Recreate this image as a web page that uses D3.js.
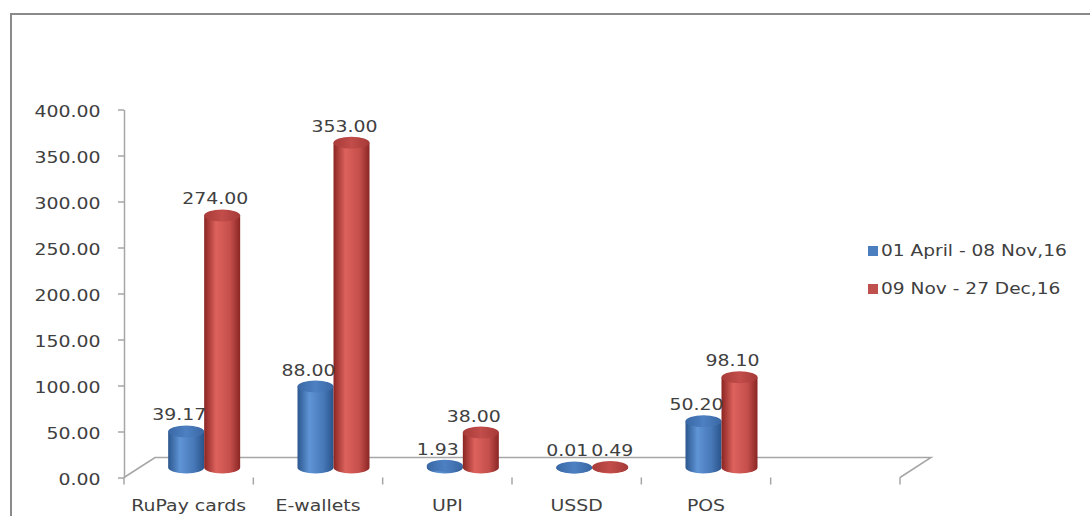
<!DOCTYPE html>
<html>
<head>
<meta charset="utf-8">
<script src="https://cdn.jsdelivr.net/npm/d3@7/dist/d3.min.js"></script>
<style>
  html, body { margin: 0; padding: 0; background: #fff; }
  svg { display: block; }
  text { font-family: "DejaVu Sans", Verdana, sans-serif; fill: #404040; }
</style>
</head>
<body>
<script>
// ---- data ----
const categories = ["RuPay cards", "E-wallets", "UPI", "USSD", "POS", ""];
const seriesNames = ["01 April - 08 Nov,16", "09 Nov - 27 Dec,16"];
const series1 = [39.17, 88.00, 1.93, 0.01, 50.20, null];
const series2 = [274.00, 353.00, 38.00, 0.49, 98.10, null];
const yTicks = [0, 50, 100, 150, 200, 250, 300, 350, 400];

// ---- layout ----
const W = 1090, H = 516;
const SX = 1.18;                 // horizontal stretch of the source text
const depthX = 31, depthY = -20; // floor depth offset
const svg = d3.select("body").append("svg").attr("width", W).attr("height", H);

const defs = svg.append("defs");
function grad(id, stops) {
  const g = defs.append("linearGradient").attr("id", id)
    .attr("x1", "0%").attr("x2", "100%").attr("y1", "0%").attr("y2", "0%");
  stops.forEach(s => g.append("stop").attr("offset", s[0]).attr("stop-color", s[1]));
}
grad("gBlue", [[0, "#2b578e"], [0.33, "#5f94d6"], [0.72, "#4778b8"], [1, "#2a548a"]]);
grad("gRed",  [[0, "#8a2522"], [0.33, "#dd625d"], [0.72, "#c54f4b"], [1, "#8a2624"]]);
grad("gBlueTop", [[0, "#3a68a6"], [0.5, "#4d80c2"], [1, "#3a67a3"]]);
grad("gRedTop",  [[0, "#a83b38"], [0.5, "#c24d4a"], [1, "#a53a37"]]);

// frame
svg.append("rect").attr("x", 11).attr("y", 14).attr("width", W + 20).attr("height", H + 20)
  .attr("fill", "none").attr("stroke", "#8a8a8a").attr("stroke-width", 2);

const x = d3.scaleBand().domain(d3.range(categories.length)).range([124, 900]).paddingInner(0).paddingOuter(0);
const y = d3.scaleLinear().domain([0, 400]).range([477.5, 109.5]);

// floor
const fx0 = x.range()[0], fx1 = x.range()[1], fy = y(0);
svg.append("path")
  .attr("d", `M${fx0},${fy} L${fx0 + depthX},${fy + depthY} L${fx1 + depthX},${fy + depthY} L${fx1},${fy}`)
  .attr("fill", "none").attr("stroke", "#a6a6a6").attr("stroke-width", 1.5);

// y axis
const yAxis = d3.axisLeft(y).tickValues(yTicks).tickFormat(d3.format(".2f"))
  .tickSize(6).tickSizeOuter(0).tickPadding(14);
const gy = svg.append("g").attr("transform", `translate(${fx0},0)`).call(yAxis);
gy.select(".domain").attr("stroke", "#a6a6a6").attr("stroke-width", 1.5);
gy.selectAll(".tick line").attr("stroke", "#a6a6a6").attr("stroke-width", 1.5);
gy.selectAll(".tick text")
  .style("font-size", "16px").style("font-family", "'DejaVu Sans', Verdana, sans-serif")
  .attr("fill", "#404040")
  .attr("dy", "0.42em")
  .attr("transform", `scale(${SX},1)`);

// x axis (front floor edge)
const xAxis = d3.axisBottom(x).tickSize(0).tickFormat(i => categories[i]).tickPadding(22);
const gx = svg.append("g").attr("transform", `translate(0,${fy})`).call(xAxis);
gx.select(".domain").remove();
gx.selectAll(".tick text")
  .style("font-size", "16px").style("font-family", "'DejaVu Sans', Verdana, sans-serif")
  .attr("fill", "#404040")
  .attr("transform", `scale(${SX},1)`)
  .attr("x", 0);
gx.selectAll(".tick").each(function (d) {
  const cx = x(d) + x.bandwidth() / 2;
  d3.select(this).attr("transform", `translate(${cx},0)`);
});
// category boundary ticks
svg.append("g").selectAll("line")
  .data(d3.range(categories.length + 1))
  .join("line")
  .attr("x1", i => fx0 + i * x.bandwidth()).attr("x2", i => fx0 + i * x.bandwidth())
  .attr("y1", fy).attr("y2", fy + 7)
  .attr("stroke", "#a6a6a6").attr("stroke-width", 1.5);

// cylinders
const rx = 18, ry = 6;
const baseY = y(0) + depthY / 2;
function cylinder(g, cx, v, body, top) {
  const topY = baseY - (y(0) - y(v));
  g.append("path")
    .attr("d", `M${cx - rx},${topY} L${cx - rx},${baseY} A${rx},${ry} 0 0 0 ${cx + rx},${baseY} L${cx + rx},${topY} Z`)
    .attr("fill", `url(#${body})`);
  g.append("ellipse").attr("cx", cx).attr("cy", topY).attr("rx", rx).attr("ry", ry)
    .attr("fill", `url(#${top})`);
  return topY;
}
const barsG = svg.append("g");
const labelsG = svg.append("g");
const seriesList = [
  { vals: series1, body: "gBlue", top: "gBlueTop", off: -rx },
  { vals: series2, body: "gRed", top: "gRedTop", off: rx }
];
const placed = {}; // per category: previous label extent, to avoid overlap
seriesList.forEach(s => {
  s.vals.forEach((v, i) => {
    if (v == null) return;
    const gc = x(i) + x.bandwidth() / 2 + depthX / 2;
    const cx = gc + s.off;
    const topY = cylinder(barsG, cx, v, s.body, s.top);
    const t = labelsG.append("text")
      .attr("text-anchor", "middle")
      .style("font-size", "16px")
      .text(d3.format(".2f")(v));
    const w = t.node().getComputedTextLength() * SX;
    let lx = cx - 7;
    const ly = topY - 11;
    const prev = placed[i];
    if (prev && Math.abs(prev.y - ly) < 16 && lx - w / 2 < prev.right + 3) {
      lx = prev.right + 3 + w / 2;
    }
    placed[i] = { right: lx + w / 2, y: ly };
    t.attr("transform", `translate(${lx},${ly}) scale(${SX},1)`);
  });
});

// legend
const legendColors = ["#4a7ebf", "#c0504d"];
const lg = svg.append("g").attr("transform", "translate(868,246)");
seriesNames.forEach((name, i) => {
  const row = lg.append("g").attr("transform", `translate(0,${i * 38})`);
  row.append("rect").attr("x", 0).attr("y", 0).attr("width", 10).attr("height", 10).attr("fill", legendColors[i]);
  row.append("text").attr("transform", `translate(13,10) scale(1.24,1)`)
    .style("font-size", "15px").text(name);
});
</script>
</body>
</html>
